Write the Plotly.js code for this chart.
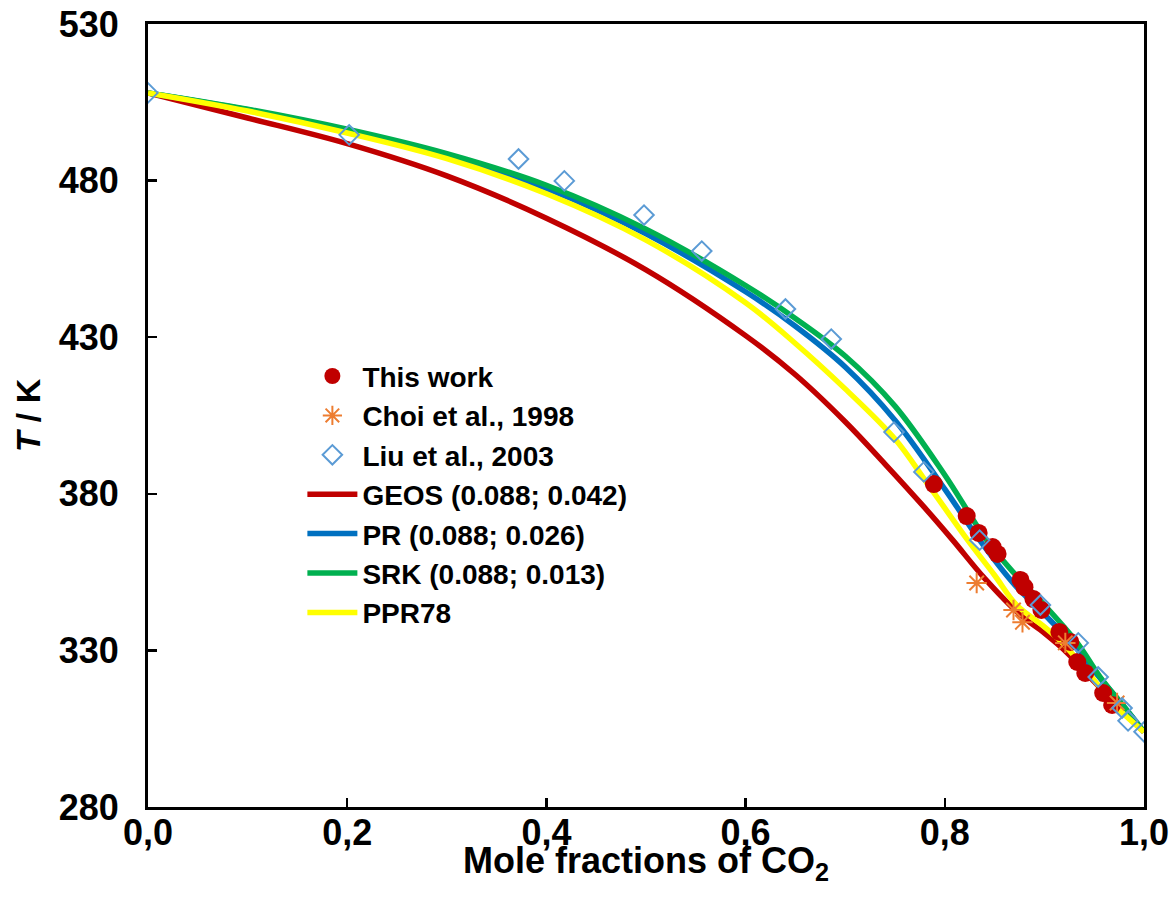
<!DOCTYPE html>
<html>
<head>
<meta charset="utf-8">
<script src="https://cdn.plot.ly/plotly-3.0.1.min.js"></script>
<style>html,body{margin:0;padding:0;background:#fff;}#chart{width:1174px;height:909px;}</style>
</head>
<body>
<div id="chart"></div>
<script>
// Experimental data
const thisWorkX = [0.789,0.822,0.834,0.848,0.853,0.876,0.880,0.889,0.897,0.915,0.926,0.933,0.941,0.959,0.968];
const thisWorkT = [383.1,372.9,367.5,363.0,360.8,352.5,350.2,346.4,342.9,335.9,332.7,326.3,322.8,316.4,312.6];

const choiX = [0.832,0.869,0.878,0.921,0.973];
const choiT = [351.5,342.9,339.0,332.4,313.2];

const liuX = [0,0.202,0.372,0.418,0.498,0.556,0.640,0.686,0.749,0.779,0.835,0.896,0.934,0.954,0.978,0.984,1.0];
const liuT = [508,494.6,486.9,479.9,469.0,457.5,439.0,429.4,399.7,387.0,365.2,344.5,332.4,321.5,311.6,307.5,304.0];

// Model curves
const geosX = [0,0.1,0.2,0.3,0.4,0.5,0.6,0.65,0.7,0.74,0.78,0.808,0.84,0.876,0.9,0.923,0.95,0.975,1.0];
const geosT = [508,500.0,491.8,481.5,468.0,451.5,430.5,418.0,403.0,389.5,375.5,365.2,353.0,341.3,335.5,329.2,320.0,311.6,304];

const prX = [0,0.1,0.2,0.3,0.4,0.5,0.6,0.65,0.7,0.75,0.8,0.835,0.87,0.9,0.93,0.955,0.98,1.0];
const prT = [508,502.6,496.0,488.0,477.5,463.0,444.5,433.5,420.5,403.5,381.5,365.2,351.0,341.5,331.5,321.5,312.0,304];

const srkX = [0,0.1,0.2,0.3,0.4,0.5,0.6,0.65,0.7,0.75,0.8,0.842,0.87,0.9,0.933,0.956,0.98,1.0];
const srkT = [508,502.8,496.4,488.6,478.5,464.5,446.5,436.0,424.0,408.0,386.0,365.2,354.5,344.5,332.4,321.5,312.0,304];

const ppr78X = [0,0.1,0.2,0.3,0.4,0.5,0.6,0.65,0.7,0.75,0.782,0.823,0.85,0.872,0.9,0.918,0.945,0.969,1.0];
const ppr78T = [508,502.2,495.2,487.0,475.8,461.0,441.0,428.0,413.5,397.5,383.5,365.2,354.0,344.5,337.5,332.4,322.5,313.0,304];

const xTicks = [0,0.2,0.4,0.6,0.8,1.0];
const yTicks = [280,330,380,430,480,530];

const lineStyle = (c) => ({color: c, width: 5.5, shape: 'spline', smoothing: 1});

const traces = [
  {x: geosX, y: geosT, mode: 'lines', name: 'GEOS (0.088; 0.042)', line: lineStyle('#C00000'), legendrank: 4, legendgroup: 'g4'},
  {x: prX, y: prT, mode: 'lines', name: 'PR (0.088; 0.026)', line: lineStyle('#0070C0'), legendrank: 5, legendgroup: 'g5'},
  {x: srkX, y: srkT, mode: 'lines', name: 'SRK (0.088; 0.013)', line: lineStyle('#00B050'), legendrank: 6, legendgroup: 'g6'},
  {x: ppr78X, y: ppr78T, mode: 'lines', name: 'PPR78', line: lineStyle('#FFFF00'), legendrank: 7, legendgroup: 'g7'},
  {x: thisWorkX, y: thisWorkT, mode: 'markers', name: 'This work',
   marker: {symbol: 'circle', size: 18, color: '#C00000'}, legendrank: 1, legendgroup: 'g1'},
  {x: choiX, y: choiT, mode: 'markers', name: 'Choi et al., 1998',
   marker: {symbol: 'asterisk-open', size: 17, color: '#ED7D31', line: {color: '#ED7D31', width: 2}}, legendrank: 2, legendgroup: 'g2'},
  {x: liuX, y: liuT, mode: 'markers', name: 'Liu et al., 2003',
   marker: {symbol: 'diamond-open', size: 15, color: '#5B9BD5', line: {color: '#5B9BD5', width: 2}}, legendrank: 3, legendgroup: 'g3'}
];

const fontFam = 'Arial, "Liberation Sans", sans-serif';

const layout = {
  width: 1174, height: 909,
  margin: {l: 148, r: 30, t: 24, b: 102},
  paper_bgcolor: '#fff', plot_bgcolor: '#fff',
  separators: ', ',
  showlegend: true,
  font: {family: fontFam, color: '#000', weight: 'bold'},
  legend: {
    x: 0.155, y: 0.582, xanchor: 'left', yanchor: 'top',
    bgcolor: 'rgba(0,0,0,0)', borderwidth: 0,
    font: {family: fontFam, size: 28, color: '#000', weight: 'bold'},
    traceorder: 'grouped', tracegroupgap: 0, itemwidth: 50
  },
  xaxis: {
    range: [0, 1], tickvals: xTicks, tickformat: '.1f',
    showgrid: false, zeroline: false,
    showline: true, linecolor: '#000', linewidth: 3, mirror: true,
    ticks: 'inside', ticklen: 9, tickwidth: 2.5, tickcolor: '#000',
    tickfont: {family: fontFam, size: 36, color: '#000', weight: 'bold'},
    ticklabelstandoff: -8
  },
  yaxis: {
    range: [280, 530], tickvals: yTicks,
    showgrid: false, zeroline: false,
    showline: true, linecolor: '#000', linewidth: 3, mirror: true,
    ticks: 'inside', ticklen: 9, tickwidth: 2.5, tickcolor: '#000',
    tickfont: {family: fontFam, size: 36, color: '#000', weight: 'bold'},
    ticklabelstandoff: 19,
    title: {text: '<i>T</i> / K', standoff: 8,
            font: {family: fontFam, size: 34, color: '#000', weight: 'bold'}}
  },
  annotations: [{
    xref: 'paper', yref: 'paper', x: 0.5, y: -0.071, xanchor: 'center', yanchor: 'middle',
    text: 'Mole fractions of CO<sub>2</sub>', showarrow: false,
    font: {family: fontFam, size: 36, color: '#000', weight: 'bold'}
  }]
};

Plotly.newPlot('chart', traces, layout, {displayModeBar: false, staticPlot: true});
</script>
</body>
</html>
